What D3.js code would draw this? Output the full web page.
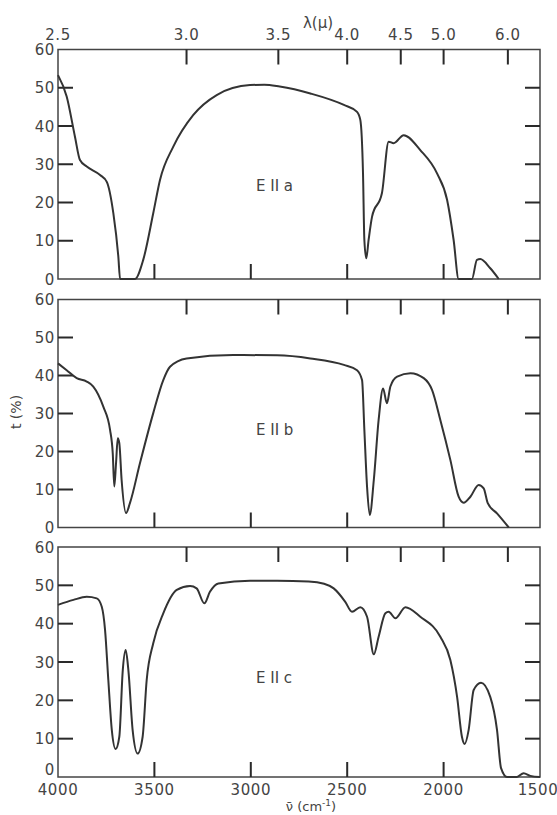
<!DOCTYPE html>
<html><head><meta charset="utf-8">
<script src="https://cdn.jsdelivr.net/npm/d3@7"></script>
<style>
html,body{margin:0;padding:0;background:#fff;}
text{font-family:"DejaVu Sans",sans-serif;fill:#444;}
</style></head>
<body><svg id="c" width="557" height="815" xmlns="http://www.w3.org/2000/svg"></svg>
<script>
// ---- data ----
const yTicks = [0,10,20,30,40,50,60];
const wnTicks = [4000,3500,3000,2500,2000,1500];
const lambdaTicks = [2.5,3.0,3.5,4.0,4.5,5.0,6.0];
const panelLabels = ["E II a","E II b","E II c"];

const aWn = [4000,3955,3912,3886,3851,3782,3747,3713,3687,3678,3601,3558,3506,3471,3402,3298,3177,3004,2930,2850,2691,2517,2449,2432,2418,2411,2401,2389,2371,2320,2285,2259,2207,2121,2034,1982,1948,1922,1853,1827,1810,1758,1714];
const aT  = [53.3,47.7,37.2,31.1,29.4,27.2,25.4,17.2,5.8,0,0,5,17.2,25.9,34.6,42.9,48.1,50.7,50.8,50.3,48.5,45.5,43.7,41.6,27.6,10.2,5.4,10.2,16.3,22.4,35.9,35.5,37.6,33.7,27.6,20.7,10.2,0,0,5,5.2,2.8,0];

const bWn = [4000,3955,3903,3851,3817,3765,3730,3716,3708,3699,3690,3682,3670,3647,3627,3575,3506,3454,3419,3333,3091,2864,2691,2517,2449,2423,2411,2397,2383,2362,2337,2314,2294,2276,2241,2172,2103,2060,2017,1965,1922,1896,1861,1818,1792,1771,1723,1662];
const bT  = [43.2,41.4,39.3,38.4,37.1,31.8,25.7,19.5,10.8,16.9,23.5,22.2,12.5,3.8,6.4,16.9,30.1,38.8,42.3,44.5,45.4,45.3,44.5,42.8,41.4,38.8,25.7,10.7,3.3,12.5,28.3,36.6,32.7,37.1,39.7,40.6,39.3,36.2,28.3,17.8,8.1,6.5,8.1,11.2,10.3,6.4,3.7,0];

const cWn = [4000,3920,3851,3799,3773,3756,3739,3721,3701,3682,3664,3649,3635,3613,3587,3561,3540,3506,3454,3384,3315,3281,3241,3212,3168,3004,2864,2700,2620,2570,2510,2475,2432,2397,2362,2337,2302,2285,2250,2198,2121,2017,1965,1930,1905,1891,1870,1844,1806,1758,1723,1702,1671,1620,1585,1550,1500];
const cT  = [44.9,46.2,47.0,46.6,44.4,38.4,25.3,12.3,7.3,10.5,27.9,33.1,27.9,12.3,6.1,10.5,25.3,34.9,42.7,48.8,49.8,49.2,45.3,48.3,50.5,51.2,51.2,51.0,50.4,49.2,45.7,43.1,44.3,41.8,32.0,36.6,42.7,43.1,41.4,44.3,41.8,36.6,30.5,20.9,10.5,8.6,12.3,22.7,24.6,20.9,12.3,2.3,0,0,1.0,0.3,0];

// ---- layout ----
const svg = d3.select("#c");
const x = d3.scaleLinear().domain([4000,1500]).range([58,540]);
const panels = [
  {top:49.5, bottom:279, wn:aWn, t:aT, label:panelLabels[0], ly:190.5, zeroDy:5.5},
  {top:299.5, bottom:527.5, wn:bWn, t:bT, label:panelLabels[1], ly:434.5, zeroDy:5.5},
  {top:547, bottom:777, wn:cWn, t:cT, label:panelLabels[2], ly:682.5, zeroDy:-2}
];
const ink = "#333";
const frame = "#444";
const tickInk = "#2a2a2a";
const tickLen = 15;
const innerY = yTicks.slice(1,-1);
const innerWn = wnTicks.slice(1,-1);
const innerL = lambdaTicks.slice(1);

panels.forEach((p,i)=>{
  const y = d3.scaleLinear().domain([0,60]).range([p.bottom,p.top]);
  const g = svg.append("g");
  g.append("rect").attr("x",x(4000)).attr("y",y(60))
    .attr("width",x(1500)-x(4000)).attr("height",y(0)-y(60))
    .attr("fill","none").attr("stroke",frame).attr("stroke-width",1.5);
  // inward tick marks, positioned through the scales
  const tickRects = [];
  innerY.forEach(d=>{
    tickRects.push({x:x(4000), y:y(d)-1, w:tickLen, h:2});
    tickRects.push({x:x(1500)-tickLen, y:y(d)-1, w:tickLen, h:2});
  });
  innerWn.forEach(d=>tickRects.push({x:x(d)-1, y:y(0)-tickLen, w:2, h:tickLen}));
  innerL.forEach(d=>tickRects.push({x:x(1e4/d)-1, y:y(60), w:2, h:tickLen}));
  g.selectAll("rect.tk").data(tickRects).join("rect").attr("class","tk")
    .attr("x",d=>d.x).attr("y",d=>d.y).attr("width",d=>d.w).attr("height",d=>d.h)
    .attr("fill",tickInk);
  g.selectAll(".ylab").data(yTicks).join("text")
    .attr("x",55).attr("y",d=>y(d)+(d===0?p.zeroDy:5.5)).attr("text-anchor","end")
    .attr("font-size",15).attr("letter-spacing",0.6).text(d=>d);
  const pts = p.wn.map((w,k)=>[w,p.t[k]]);
  const line = d3.line().x(d=>x(d[0])).y(d=>y(d[1])).curve(d3.curveMonotoneX);
  g.append("path").attr("d",line(pts)).attr("fill","none")
    .attr("stroke",ink).attr("stroke-width",2).attr("stroke-linejoin","round");
  g.append("text").attr("x",256).attr("y",p.ly).attr("font-size",15)
    .attr("xml:space","preserve").text(p.label);
});

svg.selectAll(".lt").data(lambdaTicks).join("text")
  .attr("x",d=>x(1e4/d)).attr("y",40).attr("text-anchor","middle")
  .attr("font-size",15).attr("letter-spacing",0.6).text(d=>d.toFixed(1));
svg.append("text").attr("x",318).attr("y",28).attr("text-anchor","middle")
  .attr("font-size",15).text("λ(μ)");

svg.selectAll(".bt").data(wnTicks).join("text")
  .attr("x",d=>Math.min(x(d),538)).attr("y",795).attr("text-anchor","middle")
  .attr("font-size",15).attr("letter-spacing",0.6).text(d=>d);
const xl = svg.append("text").attr("x",311).attr("y",811).attr("text-anchor","middle").attr("font-size",13);
xl.append("tspan").text("ν̄ (cm");
xl.append("tspan").attr("font-size",9).attr("dy",-5).text("-1");
xl.append("tspan").attr("dy",5).text(")");

svg.append("text").attr("transform","translate(21,412) rotate(-90)")
  .attr("text-anchor","middle").attr("font-size",14).text("t (%)");
</script></body></html>
